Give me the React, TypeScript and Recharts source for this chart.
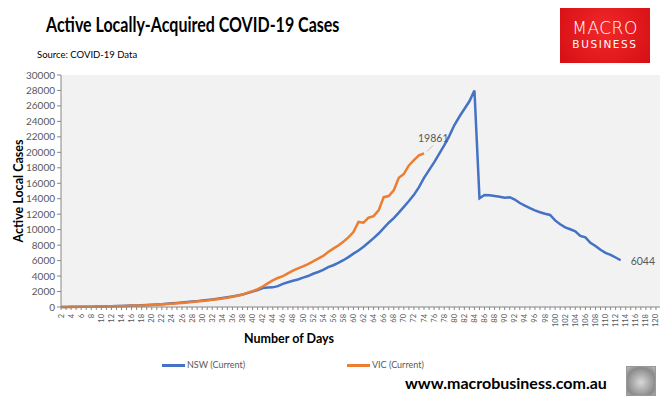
import React from "react";
import { LineChart, Line, XAxis, YAxis, ReferenceArea } from "recharts";

const days: number[] = [];
for (let d = 2; d <= 121; d++) days.push(d);

// NSW active local cases, day 2 .. day 113
const nswValues = [
  10, 15, 20, 25, 30, 35, 40, 50, 70, 90, 110, 120, 140, 160, 180, 200, 230, 260, 290,
  330, 370, 420, 470, 520, 580, 640, 700, 760, 830, 900, 980, 1060, 1150, 1250, 1360, 1480,
  1620, 1800, 2000, 2200, 2450, 2520, 2540, 2700, 3000, 3200, 3400, 3560, 3800, 4000, 4300,
  4530, 4800, 5150, 5400, 5700, 6050, 6450, 6900, 7300, 7800, 8350, 8900, 9500, 10200,
  10900, 11500, 12200, 12950, 13700, 14500, 15500, 16700, 17700, 18700, 19800, 20900,
  22100, 23500, 24600, 25600, 26600, 27990, 14050, 14480, 14450, 14350, 14250, 14120,
  14200, 13900, 13450, 13100, 12800, 12500, 12250, 12050, 11900, 11200, 10700, 10300,
  10050, 9800, 9200, 9000, 8300, 7900, 7400, 7000, 6750, 6400, 6044,
];

// VIC active local cases, day 2 .. day 74
const vicValues = [
  5, 8, 12, 15, 20, 25, 30, 40, 55, 70, 85, 100, 120, 140, 160, 180, 200, 230, 260, 300,
  340, 390, 430, 480, 530, 590, 650, 710, 780, 850, 930, 1010, 1100, 1200, 1320, 1450,
  1600, 1850, 2050, 2300, 2650, 3050, 3450, 3750, 4000, 4350, 4700, 5000, 5250, 5550,
  5900, 6250, 6600, 7100, 7550, 7950, 8450, 9000, 9700, 11000, 10900, 11550, 11750,
  12500, 14200, 14350, 15100, 16700, 17200, 18300, 19000, 19600, 19861,
];

const yTicks = [0, 2000, 4000, 6000, 8000, 10000, 12000, 14000, 16000, 18000, 20000, 22000, 24000, 26000, 28000, 30000];

const data = days.map((d, i) => ({
  day: d,
  nsw: i < nswValues.length ? nswValues[i] : undefined,
  vic: i < vicValues.length ? vicValues[i] : undefined,
}));

const BLUE = "#4472c4";
const ORANGE = "#ed7d31";
const GREY_TEXT = "#595959";
const FONT = "Lato, 'Open Sans', sans-serif";

const XTick = (props: any) => {
  const { x, y, payload } = props;
  if (payload.value % 2 !== 0) return null;
  return (
    <text
      x={x}
      y={y + 2}
      transform={`rotate(-90, ${x}, ${y + 2})`}
      textAnchor="end"
      dominantBaseline="central"
      fontSize={7.5}
      fontFamily={FONT}
      fill={GREY_TEXT}
    >
      {payload.value}
    </text>
  );
};

const makeEndLabel = (len: number, kind: "vic" | "nsw") => (props: any) => {
  const { x, y, index, value } = props;
  if (index !== len - 1) return null;
  if (kind === "vic") {
    return (
      <g>
        <line x1={x + 3} y1={y - 2} x2={x + 9} y2={y - 8} stroke="#bfbfbf" strokeWidth={1} />
        <text x={x - 6} y={y - 11} fontSize={10.5} fontFamily={FONT} fill={GREY_TEXT}>
          {value}
        </text>
      </g>
    );
  }
  return (
    <text x={x + 10} y={y + 1} dominantBaseline="central" fontSize={10.5} fontFamily={FONT} fill={GREY_TEXT}>
      {value}
    </text>
  );
};

export default function App() {
  return (
    <div style={{ position: "absolute", left: 0, top: 0, width: 660, height: 398, overflow: "hidden", background: "#fff", fontFamily: FONT }}>
      <div
        style={{
          position: "absolute",
          left: 46,
          top: 12,
          fontSize: 20,
          fontWeight: 700,
          color: "#000",
          whiteSpace: "nowrap",
          transform: "scaleX(0.8)",
          transformOrigin: "0 0",
        }}
      >
        Active Locally-Acquired COVID-19 Cases
      </div>
      <div style={{ position: "absolute", left: 37, top: 49, fontSize: 9.5, color: "#000" }}>Source: COVID-19 Data</div>

      <div
        style={{
          position: "absolute",
          left: 560,
          top: 8,
          width: 90,
          height: 55,
          background: "radial-gradient(circle at 50% 40%, #f0282a, #d60f14)",
          color: "#fff",
          textAlign: "center",
          fontFamily: "'DejaVu Sans', sans-serif",
        }}
      >
        <div style={{ fontSize: 17, marginTop: 11, lineHeight: "18px", letterSpacing: 0.5, fontWeight: 300 }}>MACRO</div>
        <div style={{ fontSize: 10.5, lineHeight: "13px", letterSpacing: 1.6, marginTop: 1 }}>BUSINESS</div>
      </div>

      <div style={{ position: "absolute", left: 0, top: 0 }}>
        <LineChart width={662} height={398} data={data} margin={{ top: 75, right: 1, bottom: 61, left: 6 }}>
          <ReferenceArea x1={2} x2={121} y1={0} y2={30000} fill="#f2f2f2" fillOpacity={1} stroke="none" ifOverflow="visible" />
          <XAxis
            dataKey="day"
            interval={0}
            tick={<XTick />}
            tickLine={{ stroke: "#868686" }}
            tickSize={3}
            axisLine={{ stroke: "#868686" }}
            height={30}
            label={{
              value: "Number of Days",
              position: "insideBottom",
              offset: -6,
              dx: -72,
              style: { fontSize: 12.5, fontWeight: 700, fill: "#000", fontFamily: FONT },
            }}
          />
          <YAxis
            domain={[0, 30000]}
            ticks={yTicks}
            interval={0}
            width={55}
            tickSize={4}
            tickLine={{ stroke: "#868686" }}
            axisLine={{ stroke: "#868686" }}
            tick={{ fontSize: 10, fill: GREY_TEXT, fontFamily: FONT }}
            label={{
              value: "Active Local Cases",
              angle: -90,
              position: "insideLeft",
              dx: 8,
              style: { fontSize: 12.5, fontWeight: 700, fill: "#000", fontFamily: FONT, textAnchor: "middle" },
            }}
          />
          <Line
            type="linear"
            dataKey="nsw"
            name="NSW (Current)"
            stroke={BLUE}
            strokeWidth={2.5}
            dot={false}
            isAnimationActive={false}
            connectNulls={false}
            label={makeEndLabel(nswValues.length, "nsw")}
          />
          <Line
            type="linear"
            dataKey="vic"
            name="VIC (Current)"
            stroke={ORANGE}
            strokeWidth={2.5}
            dot={false}
            isAnimationActive={false}
            connectNulls={false}
            label={makeEndLabel(vicValues.length, "vic")}
          />
        </LineChart>
      </div>

      <div style={{ position: "absolute", left: 0, top: 357, width: 660, height: 20, fontFamily: FONT, fontSize: 9, color: GREY_TEXT }}>
        <div style={{ position: "absolute", left: 162, top: 7, width: 23, height: 2.5, background: BLUE }} />
        <div style={{ position: "absolute", left: 187, top: 2 }}>NSW (Current)</div>
        <div style={{ position: "absolute", left: 347, top: 7, width: 23, height: 2.5, background: ORANGE }} />
        <div style={{ position: "absolute", left: 372, top: 2 }}>VIC (Current)</div>
      </div>

      <div style={{ position: "absolute", left: 405, top: 373, fontSize: 16, fontWeight: 700, color: "#000", whiteSpace: "nowrap" }}>
        www.macrobusiness.com.au
      </div>
      <div
        style={{
          position: "absolute",
          left: 626,
          top: 366,
          width: 28,
          height: 28,
          border: "1px solid #999",
          background: "radial-gradient(circle at 50% 55%, #d8d8d8, #8a8a8a 70%, #bdbdbd)",
        }}
      />
    </div>
  );
}
